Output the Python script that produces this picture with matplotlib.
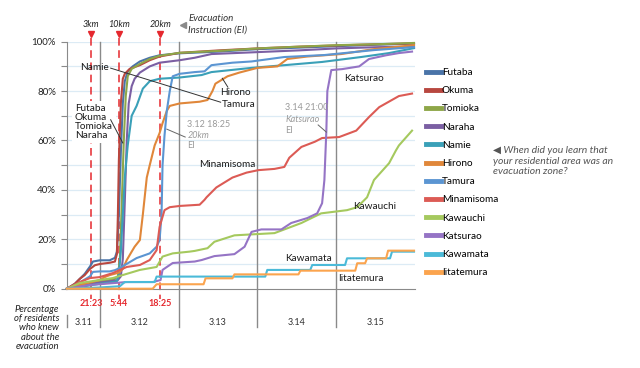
import matplotlib
matplotlib.use('Agg')
import matplotlib.pyplot as plt
from matplotlib.lines import Line2D

plt.rcParams['font.family'] = ['Lato', 'DejaVu Sans']

# hours since 3.11 00:00 / percent of residents
towns = ['Futaba', 'Okuma', 'Tomioka', 'Naraha', 'Namie', 'Hirono', 'Tamura',
         'Minamisoma', 'Kawauchi', 'Katsurao', 'Kawamata', 'Iitatemura']
colours = ['#4a74a8', '#b8473f', '#8ea648', '#7b5fa3', '#3aa0b8', '#e0873a',
           '#5b95d2', '#dc5b55', '#a5c95e', '#9574c5', '#4bbad8', '#fba44e']

futaba_h = [14.0, 16.4, 17.9, 19.4, 21.0, 21.9, 24.0, 27.0, 28.6, 29.2, 29.8, 30.4, 31.0, 31.6, 32.5, 34.0, 36.2, 39.2, 42.2, 48.3, 60.5, 72.3, 84.8, 96.3, 109.0, 119.7]
futaba_p = [0, 2, 4, 6, 9, 11, 11.5, 11.5, 12.5, 15, 30, 55, 75, 84, 88, 90, 92, 93.5, 94.5, 95.3, 96, 97, 97.6, 98.2, 98.8, 99.2]

okuma_h = [14.0, 16.4, 17.9, 19.4, 21.0, 22.5, 24.0, 27.0, 28.6, 29.2, 29.5, 29.8, 30.4, 31.0, 31.6, 33.1, 36.2, 39.2, 42.2, 48.3, 60.5, 72.3, 84.8, 96.3, 109.0, 119.7]
okuma_p = [0, 2, 4, 5.5, 8, 9.5, 10, 10.5, 11, 14, 30, 52, 75, 85, 87, 89, 90.5, 92.5, 94, 95.5, 96.5, 97.3, 98, 98.5, 99, 99.3]

tomioka_h = [14.0, 17.9, 21.0, 24.0, 27.0, 28.6, 29.5, 30.1, 30.7, 31.3, 31.9, 32.5, 33.7, 36.2, 39.2, 42.2, 48.3, 60.5, 72.3, 84.8, 96.3, 109.0, 119.7]
tomioka_p = [0, 1.5, 2.5, 3, 3.5, 4, 5, 12, 35, 60, 78, 86, 89, 91, 93, 94.3, 95.5, 96.3, 97.3, 98, 98.6, 99, 99.5]

naraha_h = [14.0, 17.9, 21.0, 24.0, 27.0, 29.5, 30.4, 31.0, 31.6, 32.2, 32.8, 33.7, 34.6, 36.2, 39.2, 42.2, 48.3, 52.9, 58.0, 72.3, 84.8, 96.3, 109.0, 119.7]
naraha_p = [0, 1, 2, 2.5, 3, 3.5, 5, 12, 35, 60, 75, 82, 85, 87.5, 90, 91.5, 92.5, 93.5, 95, 95.8, 96.5, 97.3, 97.8, 98]

namie_h = [14.0, 19.4, 24.0, 27.0, 29.2, 29.8, 30.4, 31.0, 31.6, 32.5, 33.7, 35.2, 37.1, 39.2, 42.2, 48.3, 55.0, 58.0, 70.2, 80.2, 91.7, 103.6, 112.1, 119.7]
namie_p = [0, 1, 2, 2.5, 3, 6, 15, 30, 45, 58, 70, 74, 81, 84, 85, 85.5, 86.5, 87.7, 89.4, 90.5, 91.8, 93.8, 95.4, 97.4]

hirono_h = [14.0, 17.9, 21.0, 24.0, 25.5, 27.0, 29.8, 31.0, 32.2, 33.7, 34.6, 36.2, 37.1, 38.3, 39.2, 40.7, 42.2, 43.1, 44.4, 45.3, 48.3, 54.4, 56.8, 58.3, 59.2, 62.9, 66.5, 72.0, 78.1, 81.1, 87.2, 97.5, 107.5, 119.7]
hirono_p = [0, 1.5, 2.5, 3.5, 4.7, 5.5, 6.5, 8, 11.6, 15, 17, 19.7, 30, 45, 50, 58, 63, 67, 72, 74, 75, 75.7, 76.4, 80, 83, 86, 87.5, 89.4, 90, 93, 94, 95, 97, 98.6]

tamura_h = [14.0, 17.9, 21.0, 21.9, 24.0, 27.0, 28.6, 30.1, 35.2, 39.2, 41.3, 42.2, 42.8, 43.1, 43.7, 44.4, 45.3, 46.2, 48.3, 52.9, 55.9, 58.0, 64.4, 70.2, 80.2, 92.4, 107.5, 119.7]
tamura_p = [0, 2.5, 5, 6.8, 7, 7, 7.5, 8.4, 12.4, 14.3, 17, 19.7, 30, 50, 62, 72, 80, 86, 87, 87.7, 88, 90.5, 91.5, 92, 93.8, 94.6, 96.6, 97.8]

minamisoma_h = [14.0, 17.9, 21.0, 24.0, 27.9, 32.2, 36.2, 39.2, 41.3, 42.2, 43.7, 45.3, 48.3, 54.4, 55.9, 56.5, 59.5, 64.4, 68.7, 72.3, 77.2, 80.2, 81.7, 85.4, 89.5, 91.7, 96.9, 102.1, 106.0, 109.1, 115.1, 119.1]
minamisoma_p = [0, 2.7, 4.3, 4.7, 6.3, 8.8, 9.6, 11.6, 15.6, 25, 31.8, 33, 33.5, 34, 36, 37, 41, 45, 47, 48, 48.5, 49.3, 53, 57.4, 59.5, 61, 61.4, 64, 69.5, 73.5, 78, 79]

kawauchi_h = [14.0, 17.9, 27.9, 36.2, 41.3, 43.1, 46.2, 51.3, 52.9, 56.8, 58.9, 65.0, 77.2, 80.2, 85.4, 91.4, 99.3, 102.4, 105.4, 107.5, 112.1, 114.2, 115.1, 119.1]
kawauchi_p = [0, 2.3, 4.3, 7.6, 8.8, 13, 14.3, 15, 15.3, 16.4, 19, 21.6, 22.5, 24, 26.6, 30.5, 31.8, 33, 37, 44, 50.8, 56, 58, 64]

katsurao_h = [14.0, 21.0, 32.2, 40.1, 42.5, 43.1, 46.2, 52.9, 55.0, 58.9, 65.0, 68.1, 70.2, 73.2, 79.3, 82.3, 87.2, 90.2, 91.7, 92.4, 93.0, 93.3, 94.5, 97.8, 103.0, 106.0, 111.2, 115.1, 119.1]
katsurao_p = [0, 1.5, 2.7, 2.7, 3.5, 7.6, 10.4, 11, 11.6, 13.2, 14, 17, 23, 24, 24, 26.6, 28.6, 30.5, 34.6, 44, 64, 80, 88.5, 88.9, 90, 93, 94.5, 95.4, 96]

kawamata_h = [14.0, 24.0, 30.1, 31.6, 40.7, 41.3, 74.4, 75.0, 88.1, 88.7, 98.7, 99.3, 112.4, 113.0, 119.7]
kawamata_p = [0, 0.5, 1, 2.7, 2.7, 4.9, 4.9, 7.6, 7.6, 9.6, 9.6, 12.3, 12.3, 15, 15]

iitatemura_h = [14.0, 40.1, 41.3, 55.6, 56.2, 64.4, 65.0, 84.5, 85.1, 101.8, 102.4, 104.8, 105.4, 111.2, 111.8, 119.7]
iitatemura_p = [0, 0, 1.8, 1.8, 4.2, 4.2, 5.8, 5.8, 7.3, 7.3, 10.3, 10.3, 12.3, 12.3, 15.4, 15.4]

series_h = [futaba_h, okuma_h, tomioka_h, naraha_h, namie_h, hirono_h, tamura_h,
            minamisoma_h, kawauchi_h, katsurao_h, kawamata_h, iitatemura_h]
series_p = [futaba_p, okuma_p, tomioka_p, naraha_p, namie_p, hirono_p, tamura_p,
            minamisoma_p, kawauchi_p, katsurao_p, kawamata_p, iitatemura_p]

day_edges = [24, 48, 72, 96]
day_labels = ['3.11', '3.12', '3.13', '3.14', '3.15']
day_centres = [19, 36, 60, 84, 108]
ei_hours = [21 + 23/60, 24 + 5 + 44/60, 24 + 18 + 25/60]
ei_dist = ['3km', '10km', '20km']
ei_times = ['21:23', '5:44', '18:25']

fig = plt.figure(figsize=(6.4, 3.68), dpi=100)
ax = fig.add_axes([67/640, 1 - 288.7/368, 348/640, 247/368])
ax.set_xlim(14, 120)
ax.set_ylim(0, 100)

grey = '#8a8a8a'
red = '#e5282e'
for y in range(10, 101, 10):
    ax.axhline(y, color='#dcebf5', lw=0.9, zorder=0)

xt = ax.get_xaxis_transform()
for d in day_edges:
    ax.plot([d, d], [1.0, -0.155], transform=xt, color=grey, lw=1.0, clip_on=False, zorder=1)
ax.plot([14, 14], [-0.105, -0.155], transform=xt, color=grey, lw=1.0, clip_on=False)
for lbl, c in zip(day_labels, day_centres):
    ax.text(c, -0.135, lbl, transform=xt, ha='center', va='center', fontsize=6.5, color='#333333')

for h, dist, t in zip(ei_hours, ei_dist, ei_times):
    ax.plot([h, h], [1.015, -0.04], transform=xt, color=red, lw=1.1, ls=(0, (5, 3)), clip_on=False, zorder=1)
    ax.plot([h], [1.03], transform=xt, marker='v', color=red, ms=5, clip_on=False)
    ax.text(h, 1.07, dist, transform=xt, ha='center', va='center', fontsize=6.5, style='italic', color='#222222')
    ax.text(h, -0.058, t, transform=xt, ha='center', va='center', fontsize=6.5, fontweight='bold', color=red)

ax.plot([49.3], [1.067], transform=xt, marker='<', color=grey, ms=5, clip_on=False)
ax.text(51.0, 1.092, 'Evacuation', transform=xt, ha='left', va='center', fontsize=7, style='italic', color='#333333')
ax.text(51.0, 1.048, 'Instruction (EI)', transform=xt, ha='left', va='center', fontsize=7, style='italic', color='#333333')

for h, p, c in zip(series_h, series_p, colours):
    ax.plot(h, p, color=c, lw=1.5, zorder=3, clip_on=False)

# annotations
lab = dict(fontsize=7.2, color='#1a1a1a', zorder=5)
ax.text(22.5, 89.6, 'Namie', ha='center', va='center', **lab)
ax.plot([27.3, 60.8], [89.3, 75.5], color='#333333', lw=0.7, zorder=4)
ax.text(16.4, 67.6, 'Futaba\nOkuma\nTomioka\nNaraha', ha='left', va='center', linespacing=1.0,
        bbox=dict(facecolor='white', edgecolor='none', pad=2), **lab)
ax.plot([27.3, 31.0], [68.4, 59.0], color='#333333', lw=0.7, zorder=6)
ax.text(65.3, 79.3, 'Hirono', ha='center', va='center', **lab)
ax.text(66.2, 74.4, 'Tamura', ha='center', va='center', **lab)
ax.plot([61.3, 63.0], [85.2, 81.6], color='#333333', lw=0.7, zorder=4)
ax.text(50.7, 66.3, '3.12 18:25', ha='left', va='center', fontsize=6.5, color='#9a9a9a')
ax.text(50.7, 62.1, '20km', ha='left', va='center', fontsize=6.5, style='italic', color='#9a9a9a')
ax.text(50.7, 57.8, 'EI', ha='left', va='center', fontsize=6.5, color='#9a9a9a')
ax.plot([44.4, 50.0], [64.6, 61.4], color='#666666', lw=0.7, zorder=4)
ax.text(80.5, 73.5, '3.14 21:00', ha='left', va='center', fontsize=6.5, color='#9a9a9a')
ax.text(80.5, 68.6, 'Katsurao', ha='left', va='center', fontsize=6.5, style='italic', color='#9a9a9a')
ax.text(80.5, 64.1, 'EI', ha='left', va='center', fontsize=6.5, color='#9a9a9a')
ax.plot([90.5, 93.0], [66.3, 63.4], color='#666666', lw=0.7, zorder=4)
ax.text(98.5, 85.0, 'Katsurao', ha='left', va='center', **lab)
ax.text(62.9, 50.1, 'Minamisoma', ha='center', va='center', **lab)
ax.text(107.8, 33.1, 'Kawauchi', ha='center', va='center', **lab)
ax.text(87.5, 12.4, 'Kawamata', ha='center', va='center', **lab)
ax.text(103.5, 4.3, 'Iitatemura', ha='center', va='center', **lab)

for s in ['top', 'right']:
    ax.spines[s].set_visible(False)
ax.spines['left'].set_color(grey)
ax.spines['bottom'].set_color(grey)
ax.set_xticks([])
ax.set_yticks(range(0, 101, 10))
ax.set_yticklabels([f'{v}%' if v % 20 == 0 else '' for v in range(0, 101, 10)])
ax.tick_params(axis='y', length=4, color=grey, labelsize=7, pad=4, labelcolor='#222222')

fig.text(59/640, 1 - 328/368, 'Percentage\nof residents\nwho knew\nabout the\nevacuation',
         ha='right', va='center', fontsize=6.8, style='italic', color='#222222', linespacing=1.05)

handles = [Line2D([], [], color=c, lw=3.5) for c in colours]
fig.legend(handles, towns, loc='upper left', bbox_to_anchor=(426/640, 1 - 68/368),
           frameon=False, fontsize=7.2, handlelength=1.45, handletextpad=0.15,
           labelspacing=0.92, borderpad=0, borderaxespad=0)

fig.text(493/640, 1 - 161/368, '\u25c0 When did you learn that\nyour residential area was an\nevacuation zone?',
         ha='left', va='center', fontsize=7.5, style='italic', color='#555555', linespacing=1.15)

plt.savefig('out.png', dpi=100)
